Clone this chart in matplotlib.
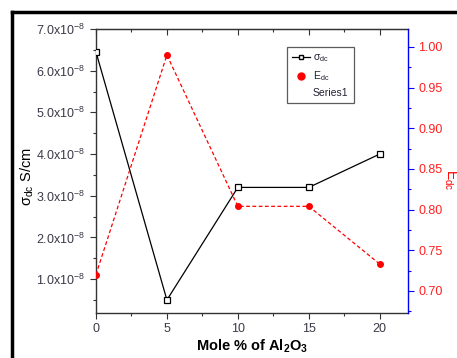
import matplotlib
matplotlib.use("Agg")
import matplotlib.pyplot as plt
from matplotlib.lines import Line2D
from matplotlib.ticker import MultipleLocator, FixedLocator

plt.rcParams['font.family'] = ['Liberation Sans', 'DejaVu Sans']
plt.rcParams['mathtext.fontset'] = 'custom'
plt.rcParams['mathtext.rm'] = 'Liberation Sans'
plt.rcParams['mathtext.it'] = 'Liberation Sans:italic'
plt.rcParams['mathtext.bf'] = 'Liberation Sans:bold'
plt.rcParams['mathtext.default'] = 'regular'

mole_pct = [0, 5, 10, 15, 20]
sigma_dc = [6.45e-8, 0.5e-8, 3.2e-8, 3.2e-8, 4.0e-8]
E_dc = [0.72, 0.99, 0.804, 0.804, 0.733]
x_ticks = [0, 5, 10, 15, 20]
left_ticks = [1e-8, 2e-8, 3e-8, 4e-8, 5e-8, 6e-8, 7e-8]
left_labels = [r'1.0x10$^{-8}$', r'2.0x10$^{-8}$', r'3.0x10$^{-8}$', r'4.0x10$^{-8}$',
               r'5.0x10$^{-8}$', r'6.0x10$^{-8}$', r'7.0x10$^{-8}$']
right_ticks = [0.70, 0.75, 0.80, 0.85, 0.90, 0.95, 1.00]

fig = plt.figure(figsize=(4.57, 3.58), dpi=100)
ax = fig.add_axes([0.210, 0.126, 0.683, 0.793])
ax2 = ax.twinx()

txtc = '#3a3a48'
ax.plot(mole_pct, sigma_dc, color='black', lw=0.9, marker='s', ms=4,
        mfc='white', mec='black', mew=0.9, clip_on=True, zorder=3)
ax2.plot(mole_pct, E_dc, color='red', lw=0.9, ls=(0, (3, 2)), marker='o', ms=4,
         mfc='red', mec='red', clip_on=True, zorder=3)

ax.set_xlim(0, 22)
ax.set_ylim(0.19e-8, 7.0e-8)
ax2.set_ylim(0.673, 1.022)

ax.xaxis.set_major_locator(FixedLocator(x_ticks))
ax.xaxis.set_minor_locator(MultipleLocator(2.5))
ax.set_yticks(left_ticks)
ax.set_yticklabels(left_labels)
ax.yaxis.set_minor_locator(MultipleLocator(0.5e-8))
ax2.set_yticks(right_ticks)
ax2.set_yticklabels(['%.2f' % v for v in right_ticks])
ax2.yaxis.set_minor_locator(MultipleLocator(0.025))

for s in ['left', 'bottom', 'top']:
    ax.spines[s].set_color('#333333')
    ax.spines[s].set_linewidth(1.0)
ax2.spines['right'].set_color('blue')
ax2.spines['right'].set_linewidth(1.0)
for s in ['left', 'bottom', 'top']:
    ax2.spines[s].set_visible(False)
ax.spines['right'].set_visible(False)

ax.tick_params(axis='x', which='both', direction='out', colors='#333333',
               labelcolor=txtc, labelsize=9)
ax.tick_params(axis='x', which='major', length=4, width=0.8)
ax.tick_params(axis='x', which='minor', length=2.5, width=0.8)
ax.tick_params(axis='y', which='both', direction='out', colors='#333333',
               labelcolor=txtc, labelsize=9)
ax.tick_params(axis='y', which='major', length=4, width=0.8)
ax.tick_params(axis='y', which='minor', length=2.5, width=0.8)
ax2.tick_params(axis='y', which='both', direction='out', colors='blue',
                labelcolor='#ff2020', labelsize=9)
ax2.tick_params(axis='y', which='major', length=4, width=0.8)
ax2.tick_params(axis='y', which='minor', length=2.5, width=0.8)

# top axis with inward ticks
secx = ax.secondary_xaxis('top')
secx.xaxis.set_major_locator(FixedLocator(x_ticks))
secx.xaxis.set_minor_locator(MultipleLocator(2.5))
secx.tick_params(axis='x', which='both', direction='in', colors='#333333',
                 labeltop=False, width=0.8)
secx.tick_params(axis='x', which='major', length=4)
secx.tick_params(axis='x', which='minor', length=2.5)
secx.spines['top'].set_color('#333333')

ax.set_xlabel(r'Mole % of Al$_2$O$_3$', fontsize=10.5, fontweight='bold',
              color='black', labelpad=2)
ax.set_ylabel(r'$\sigma_{dc}$ S/cm', fontsize=10.5, color='black')
ax.yaxis.set_label_coords(-0.192, 0.48)
ax2.set_ylabel(r'E$_{dc}$', fontsize=10, color='red', rotation=270, va='center')
ax2.yaxis.set_label_coords(1.135, 0.47)

handles = [
    Line2D([], [], color='black', lw=0.9, marker='s', ms=3.5, mfc='white', mec='black'),
    Line2D([], [], color='none', marker='o', ms=5, mfc='red', mec='red', ls='none'),
    Line2D([], [], color='none', ls='none'),
]
labels = [r'$\sigma_{dc}$', r'E$_{dc}$', 'Series1']
leg = ax.legend(handles, labels, loc='upper left', bbox_to_anchor=(0.612, 0.935),
                borderaxespad=0, fontsize=7.5, frameon=True, fancybox=False,
                edgecolor='#333333', handlelength=1.7, handletextpad=0.3,
                borderpad=0.5, labelspacing=0.45)
leg.get_frame().set_linewidth(0.9)
for t in leg.get_texts():
    t.set_color('#222233')

# outer thick frame lines (top and left)
fig.add_artist(Line2D([11.5 / 457, 11.5 / 457], [0, 1 - 11.5 / 358],
                      transform=fig.transFigure, color='black', lw=2.5))
fig.add_artist(Line2D([11.5 / 457, 1], [1 - 11.5 / 358, 1 - 11.5 / 358],
                      transform=fig.transFigure, color='black', lw=2.5))

fig.savefig('out.png', dpi=100)
